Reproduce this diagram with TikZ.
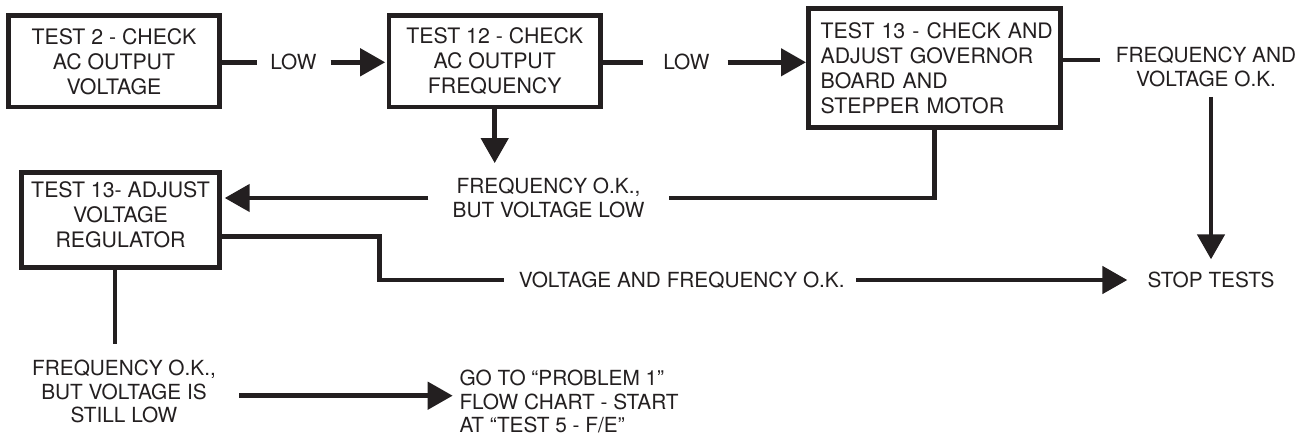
\documentclass[tikz,border=0pt]{standalone}
\usepackage{fontspec}
\setmainfont{TeX Gyre Heros}
\usetikzlibrary{arrows.meta,calc}
\definecolor{ink}{HTML}{231F20}
\begin{document}
\begin{tikzpicture}[x=1pt,y=-1pt,
  box/.style={draw=ink, text=ink, line width=4.6pt, inner sep=0pt, align=center,
    font=\fontsize{21.3}{25}\selectfont},
  lbl/.style={text=ink, inner sep=0pt, align=center, font=\fontsize{20.8}{23.5}\selectfont},
  conn/.style={draw=ink, line width=4.6pt},
  arr/.style={conn, -{Triangle[length=25pt,width=27pt]}}]
\useasboundingbox (0,0) rectangle (1304,438);
% boxes
\node[box, minimum width=211.4pt, minimum height=91.4pt] (b1) at (114,61.3)
  {TEST 2 - CHECK\\AC OUTPUT\\VOLTAGE};
\node[box, minimum width=211.4pt, minimum height=91.4pt] (b2) at (494.7,61.3)
  {TEST 12 - CHECK\\AC OUTPUT\\FREQUENCY};
\node[box, minimum width=252.4pt, minimum height=119.4pt, align=left, text width=227.6pt] (b3) at (934.5,68)
  {\mbox{TEST 13 - CHECK AND}\\\mbox{ADJUST GOVERNOR}\\\mbox{BOARD AND}\\\mbox{STEPPER MOTOR}};
\node[box, minimum width=197.8pt, minimum height=95.4pt] (b4) at (120.5,220)
  {TEST 13- ADJUST\\VOLTAGE\\REGULATOR\rule[-10pt]{0pt}{10pt}};
% labels
\node[lbl] (low1) at (293.5,62.3) {LOW};
\node[lbl] (low2) at (686.5,62.3) {LOW};
\node[lbl] (fvok) at (1206,67) {FREQUENCY AND\\VOLTAGE O.K.};
\node[lbl] (fok1) at (548.5,198) {FREQUENCY O.K.,\\BUT VOLTAGE LOW};
\node[lbl] (vfok) at (681.7,280) {VOLTAGE AND FREQUENCY O.K.};
\node[lbl] (stop) at (1211,280) {STOP TESTS};
\node[lbl] (fok2) at (124,391.7) {FREQUENCY O.K.,\\BUT VOLTAGE IS\\STILL LOW};
\node[lbl, anchor=west, align=left] (goto) at (459.3,401.6)
  {GO TO “PROBLEM 1”\\FLOW CHART - START\\AT “TEST 5 - F/E”};
% connectors
\draw[conn] (b1.east |- low1.west) -- ($(low1.west)+(-13,0)$);
\draw[arr] ($(low1.east)+(14,0)$) -- ($(b2.west |- low1.east)+(-1.5,0)$);
\draw[conn] (b2.east |- low2.west) -- ($(low2.west)+(-20,0)$);
\draw[arr] ($(low2.east)+(18,0)$) -- (b3.west |- low2.east);
\draw[arr] (b2.south) -- ($(b2.south |- fok1.north)+(0,-15)$);
\draw[conn] (b3.south) |- ($(fok1.east)+(24,0)$);
\draw[arr] ($(fok1.west)+(-24,0)$) -- ($(b4.east |- fok1.west)+(3,0)$);
\draw[conn] ($(b4.east)+(0,16.7)$) -- ++(157.6,0) |- ($(vfok.west)+(-15,0)$);
\draw[arr] ($(vfok.east)+(11.3,0)$) -- ($(stop.west)+(-20,0)$);
\coordinate (fvend) at ($(fvok.west)+(-16,-7)$);
\draw[conn] (b3.east |- fvend) -- (fvend);
\draw[arr] ($(fvok.south -| stop.north)+(0,10)$) -- ($(stop.north)+(0,-12.5)$);
\draw[conn] ($(b4.south)+(-5.5,0)$) -- ($(b4.south |- fok2.north)+(-5.5,-16)$);
\draw[arr] ($(fok2.east)+(23.4,4)$) -- ($(fok2.east -| goto.west)+(-6.6,4)$);
\end{tikzpicture}
\end{document}
